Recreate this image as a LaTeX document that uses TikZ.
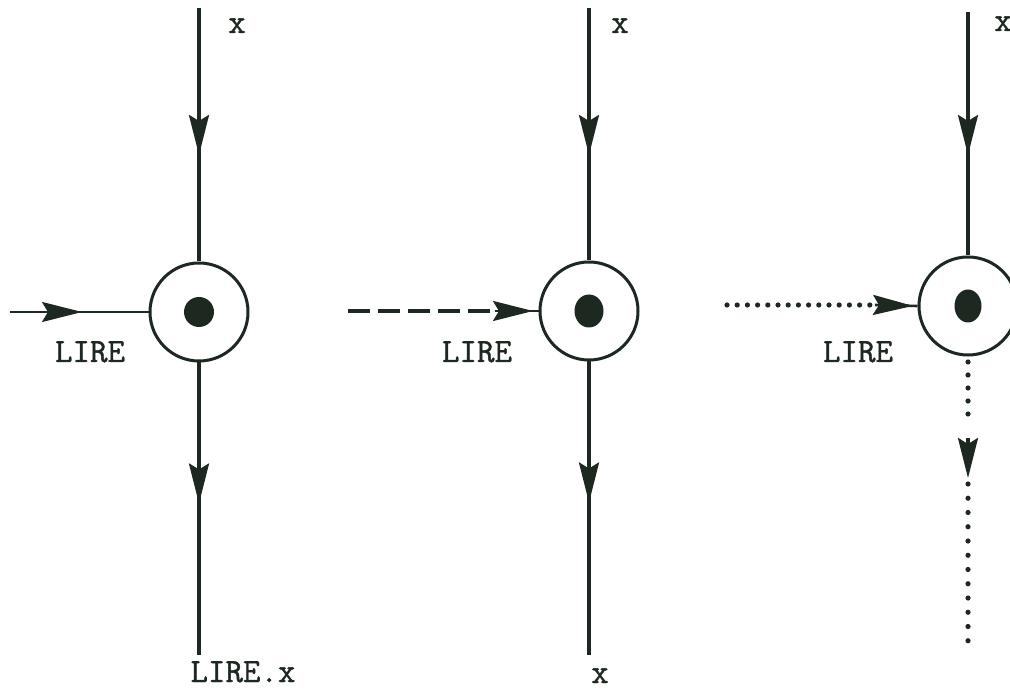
\documentclass[tikz,border=0pt]{standalone}
\usepackage{fontspec}
\newfontfamily\typefont{Latin Modern Mono}[FakeBold=1.2]
\usetikzlibrary{arrows.meta,decorations.markings,shapes.geometric}
\definecolor{ink}{RGB}{28,40,32}
\tikzset{
  myhead/.tip={Stealth[length=40pt,width=20pt,inset=6pt]},
  midarrow/.style={postaction={decorate,decoration={markings,mark=at position #1 with {\arrow{myhead}}}}},
  inkline/.style={draw=ink, line width=3.2pt},
  thinline/.style={draw=ink, line width=2.6pt},
  dashline/.style={draw=ink, line width=4.5pt, dash pattern=on 22pt off 8pt},
  dotline/.style={draw=ink, line width=5.2pt, line cap=round},
  ring/.style={circle, draw=ink, line width=3pt, minimum size=98pt, inner sep=0pt},
  blob/.style={ellipse, fill=ink, inner sep=0pt},
  lab/.style={font=\fontsize{34}{34}\selectfont\typefont, text=ink, anchor=base, inner sep=0pt}
}
\begin{document}
\begin{tikzpicture}[x=1pt,y=-1pt]
\useasboundingbox[fill=white] (0,0) rectangle (1010,692);
\clip (0,0) rectangle (1010,692);

% ---------- diagram 1 ----------
\node[ring] (c1) at (199,312) {};
\node[circle, fill=ink, inner sep=0pt, minimum size=30pt] (d1) at (c1) {};
\coordinate (t1) at (199,8);
\coordinate (b1) at (199,655);
\coordinate (s1) at (10,312);
\draw[inkline, midarrow=147pt] (t1) -- (c1.north);
\draw[inkline, midarrow=141pt] (c1.south) -- (b1);
\draw[thinline, midarrow=72pt] (s1) -- (c1.west);
\node[lab] (x1) at (237,33) {x};
\node[lab] (l1) at (90,362) {LIRE};
\node[lab] (o1) at (243,682) {LIRE.x};

% ---------- diagram 2 ----------
\node[ring] (c2) at (589,311) {};
\node[blob, minimum width=29pt, minimum height=33pt] (d2) at (c2) {};
\coordinate (t2) at (589,8);
\coordinate (b2) at (589,655);
\coordinate (s2) at (348,311);
\coordinate (e2) at (490,311);
\coordinate (h2) at (495,311);
\draw[inkline, midarrow=147pt] (t2) -- (c2.north);
\draw[inkline, midarrow=141pt] (c2.south) -- (b2);
\draw[dashline] (s2) -- (e2);
\draw[thinline, midarrow=38pt] (h2) -- (c2.west);
\node[lab] (x2) at (620,33) {x};
\node[lab] (l2) at (477,362) {LIRE};
\node[lab] (o2) at (600,683) {x};

% ---------- diagram 3 ----------
\node[ring] (c3) at (968,306) {};
\node[blob, minimum width=27pt, minimum height=33pt] (d3) at (c3) {};
\coordinate (t3) at (968,12);
\coordinate (s3) at (727,305);
\coordinate (e3) at (870,305);
\coordinate (h3) at (875,305);
\draw[inkline, midarrow=143pt] (t3) -- (c3.north);
\draw[dotline, dash pattern=on 0pt off 10.2pt] (s3) -- (e3);
\draw[thinline, midarrow=38pt] (h3) -- (c3.west);
\coordinate (u3) at (968,362);
\coordinate (v3) at (968,427);
\coordinate (h4) at (968,438);
\coordinate (p4) at (968,478);
\coordinate (w3) at (968,484);
\coordinate (b3) at (968,655);
\draw[dotline, dash pattern=on 0pt off 13pt] (u3) -- (v3);
\draw[inkline, -{myhead}] (h4) -- (p4);
\draw[dotline, dash pattern=on 0pt off 14.25pt] (w3) -- (b3);
\node[lab] (x3) at (1003,31) {x};
\node[lab] (l3) at (858,362) {LIRE};
\end{tikzpicture}
\end{document}
